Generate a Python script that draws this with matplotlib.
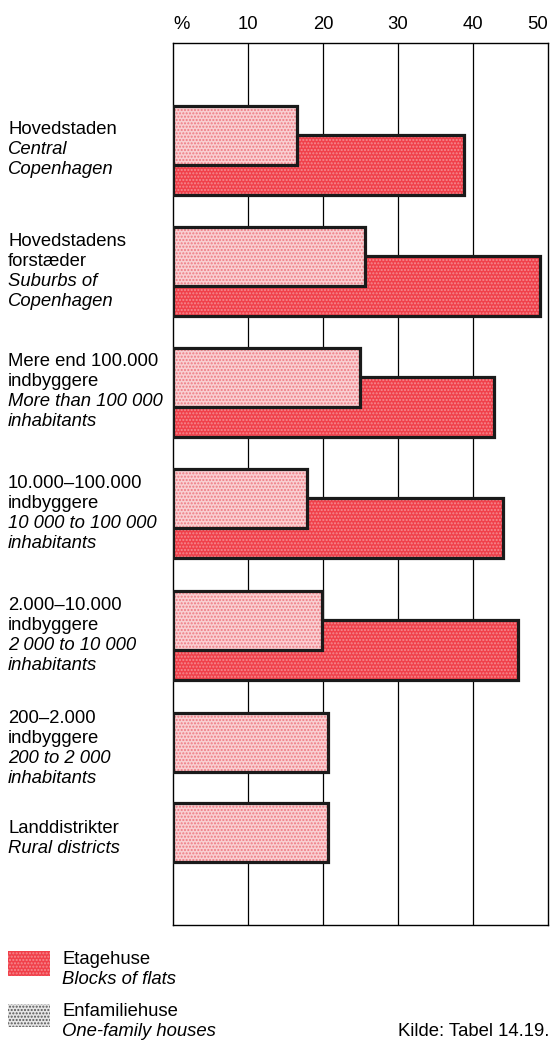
import matplotlib
matplotlib.use("Agg")
import matplotlib.pyplot as plt
from matplotlib.patches import Rectangle
from matplotlib.transforms import blended_transform_factory

plt.rcParams['font.family'] = ['Liberation Sans', 'DejaVu Sans']
plt.rcParams['hatch.linewidth'] = 1.0

# data (percent)
labels_dk = ["Hovedstaden", "Hovedstadens\nforstæder", "Mere end 100.000\nindbyggere",
             "10.000\u2013100.000\nindbyggere", "2.000\u201310.000\nindbyggere",
             "200\u20132.000\nindbyggere", "Landdistrikter"]
labels_en = ["Central\nCopenhagen", "Suburbs of\nCopenhagen", "More than 100 000\ninhabitants",
             "10 000 to 100 000\ninhabitants", "2 000 to 10 000\ninhabitants",
             "200 to 2 000\ninhabitants", "Rural districts"]
one_family = [16.5, 25.6, 24.9, 17.8, 19.8, 20.7, 20.7]
flats = [38.8, 48.9, 42.8, 44.0, 46.0, None, None]

# layout: top edge of each group (axis units, top = 43, bottom = 925)
group_top = [106, 227, 348, 469, 591, 713, 803]
bar_h = 59
offset = 29
fs = 13.3

fig = plt.figure(figsize=(5.51, 10.41), dpi=100)
ax = fig.add_axes([173 / 551, 1 - 925 / 1041, 375 / 551, 882 / 1041])
ax.set_xlim(0, 50)
ax.set_ylim(925, 43)

for x in [10, 20, 30, 40]:
    ax.axvline(x, color='black', lw=0.9, zorder=1)

red = '#f0404a'
pink = '#f9cfd2'
lab_tr = blended_transform_factory(fig.transFigure, ax.transData)

for i in range(len(labels_dk)):
    top = group_top[i]
    if flats[i] is not None:
        ax.barh(top + offset, flats[i], height=bar_h + 1, align='edge', color=red,
                hatch='.....', edgecolor='#f58a90', lw=0, zorder=2)
        ax.barh(top + offset, flats[i], height=bar_h + 1, align='edge', fill=False,
                edgecolor='#1a1a1a', lw=2.3, zorder=3)
    ax.barh(top, one_family[i], height=bar_h, align='edge', color=pink,
            hatch='.....', edgecolor='#ee7a82', lw=0, zorder=4)
    ax.barh(top, one_family[i], height=bar_h, align='edge', fill=False,
            edgecolor='#1a1a1a', lw=2.3, zorder=5)

    # category labels, Danish then English (italic)
    lines = [(s, 'normal') for s in labels_dk[i].split('\n')] + \
            [(s, 'italic') for s in labels_en[i].split('\n')]
    center = top + (bar_h + offset) / 2 if flats[i] is not None else top + bar_h / 2 + 6
    y0 = center - (len(lines) - 1) * 20 / 2
    for k, (s, st) in enumerate(lines):
        ax.text(8 / 551, y0 + k * 20, s, transform=lab_tr, fontsize=fs, style=st,
                va='center', ha='left', clip_on=False)

ax.xaxis.tick_top()
ax.set_xticks([0, 10, 20, 30, 40, 50])
ax.set_xticklabels(['%', '10', '20', '30', '40', '50'], fontsize=fs)
ax.tick_params(axis='x', length=0, pad=7)
ax.get_xticklabels()[0].set_ha('left')
ax.get_xticklabels()[-1].set_ha('right')
ax.set_yticks([])
for sp in ax.spines.values():
    sp.set_linewidth(1.0)

# legend
fig.add_artist(Rectangle((8 / 551, 1 - 976 / 1041), 42 / 551, 25 / 1041, transform=fig.transFigure,
                         facecolor=red, hatch='.....', edgecolor='#f58a90', lw=0))
fig.add_artist(Rectangle((8 / 551, 1 - 1027 / 1041), 42 / 551, 23 / 1041, transform=fig.transFigure,
                         facecolor='#e6e6e6', hatch='.....', edgecolor='#555555', lw=0))
fig.text(62 / 551, 1 - 960 / 1041, "Etagehuse", fontsize=fs, va='center')
fig.text(62 / 551, 1 - 980 / 1041, "Blocks of flats", fontsize=fs, va='center', style='italic')
fig.text(62 / 551, 1 - 1012 / 1041, "Enfamiliehuse", fontsize=fs, va='center')
fig.text(62 / 551, 1 - 1031 / 1041, "One-family houses", fontsize=fs, va='center', style='italic')
fig.text(398 / 551, 1 - 1031 / 1041, "Kilde: Tabel 14.19.", fontsize=fs, va='center')

fig.savefig('out.png', dpi=100)
